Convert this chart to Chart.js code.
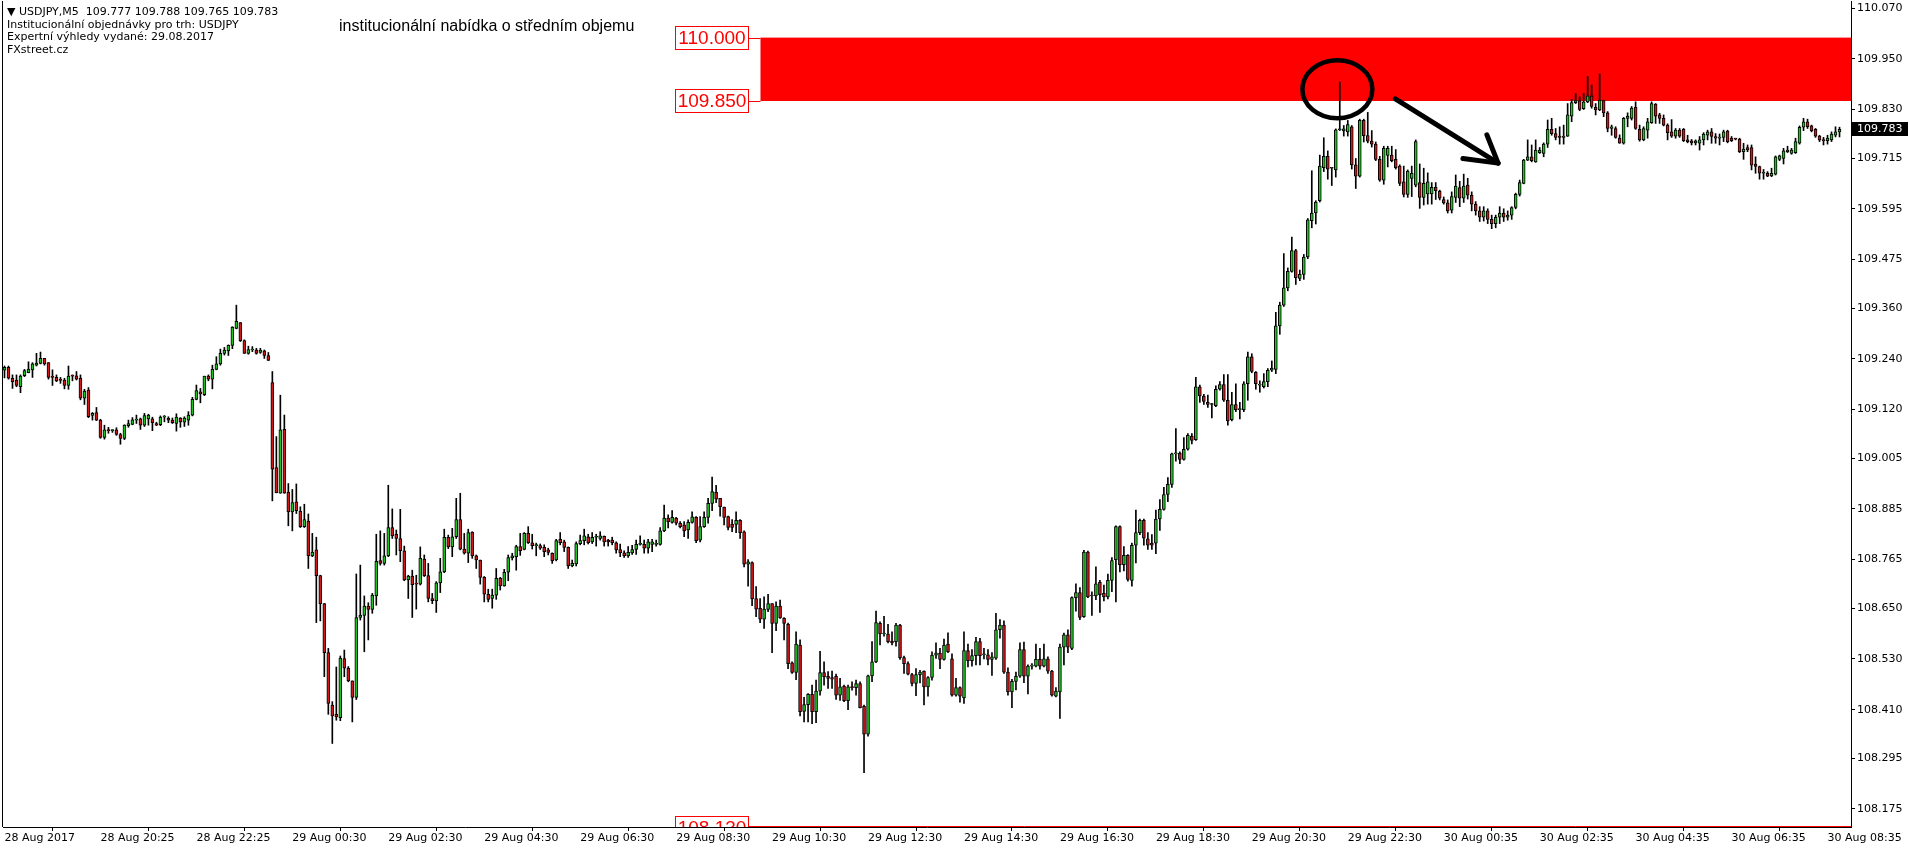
<!DOCTYPE html>
<html><head><meta charset="utf-8">
<script src="https://cdn.jsdelivr.net/npm/chart.js@4.4.1/dist/chart.umd.min.js"></script>
<style>
html,body{margin:0;padding:0;background:#fff;}
#wrap{position:relative;width:1910px;height:852px;overflow:hidden;}
canvas{display:block;position:absolute;left:0;top:0;}
#info{position:absolute;left:7px;top:6px;font:11px "DejaVu Sans";line-height:12.5px;color:#000;white-space:pre;}
#title{position:absolute;left:339px;top:17px;font:16px "Liberation Sans";line-height:18px;color:#000;white-space:pre;}
</style>
</head><body><div id="wrap"><canvas id="c" width="1910" height="852"></canvas>
<div id="info">▼ USDJPY,M5  109.777 109.788 109.765 109.783
Institucionální objednávky pro trh: USDJPY
Expertní výhledy vydané: 29.08.2017
FXstreet.cz</div>
<div id="title">institucionální nabídka o středním objemu</div>
</div>
<script>
const opens = [
109.213,109.220,109.194,109.190,109.174,109.200,109.207,109.214,109.225,109.229,
109.241,109.231,109.198,109.196,109.190,109.190,109.177,109.200,109.200,109.194,
109.147,109.166,109.106,109.113,109.095,109.054,109.071,109.070,109.072,109.061,
109.052,109.082,109.085,109.095,109.098,109.083,109.098,109.098,109.087,109.084,
109.102,109.099,109.095,109.087,109.100,109.090,109.095,109.107,109.144,109.162,
109.155,109.199,109.192,109.215,109.228,109.253,109.259,109.272,109.312,109.326,
109.283,109.253,109.261,109.261,109.255,109.259,109.248,109.184,108.983,108.922,
109.073,108.925,108.878,108.902,108.880,108.843,108.856,108.774,108.788,108.727,
108.661,108.545,108.421,108.399,108.391,108.531,108.508,108.478,108.439,108.628,
108.633,108.655,108.647,108.679,108.763,108.756,108.774,108.841,108.825,108.815,
108.786,108.717,108.726,108.708,108.707,108.766,108.727,108.673,108.667,108.710,
108.736,108.818,108.795,108.819,108.860,108.790,108.780,108.830,108.774,108.764,
108.723,108.683,108.673,108.681,108.721,108.703,108.735,108.769,108.772,108.796,
108.789,108.827,108.805,108.798,108.798,108.794,108.788,108.780,108.764,108.813,
108.807,108.794,108.750,108.755,108.803,108.810,108.819,108.807,108.818,108.815,
108.820,108.811,108.811,108.805,108.789,108.781,108.774,108.781,108.789,108.801,
108.801,108.792,108.801,108.801,108.801,108.833,108.863,108.853,108.863,108.851,
108.847,108.835,108.853,108.865,108.811,108.843,108.865,108.898,108.924,108.910,
108.889,108.867,108.849,108.848,108.858,108.831,108.754,108.758,108.673,108.650,
108.624,108.647,108.661,108.614,108.655,108.626,108.612,108.521,108.498,108.563,
108.406,108.422,108.446,108.405,108.454,108.498,108.489,108.486,108.489,108.444,
108.466,108.431,108.463,108.462,108.472,108.418,108.352,108.490,108.523,108.614,
108.589,108.589,108.572,108.571,108.610,108.533,108.519,108.493,108.472,108.493,
108.501,108.464,108.486,108.539,108.544,108.529,108.565,108.530,108.444,108.462,
108.438,108.550,108.526,108.538,108.571,108.540,108.540,108.529,108.532,108.599,
108.610,108.499,108.452,108.477,108.489,108.552,108.489,108.513,108.513,108.529,
108.513,108.530,108.501,108.442,108.452,108.558,108.587,108.555,108.675,108.687,
108.630,108.783,108.679,108.679,108.711,108.685,108.677,108.716,108.765,108.843,
108.753,108.775,108.716,108.799,108.829,108.858,108.814,108.804,108.804,108.861,
108.884,108.919,108.943,109.015,109.017,109.002,109.026,109.057,109.049,109.174,
109.152,109.137,109.132,109.129,109.168,109.179,109.142,109.096,109.132,109.120,
109.120,109.181,109.245,109.208,109.178,109.174,109.186,109.213,109.215,109.318,
109.367,109.408,109.447,109.496,109.430,109.440,109.481,109.567,109.585,109.614,
109.692,109.719,109.692,109.687,109.782,109.779,109.777,109.789,109.699,109.672,
109.804,109.768,109.755,109.748,109.712,109.663,109.721,109.722,109.712,109.696,
109.659,109.629,109.667,109.651,109.657,109.622,109.630,109.630,109.646,109.637,
109.617,109.609,109.592,109.622,109.645,109.620,109.651,109.627,109.606,109.590,
109.575,109.590,109.570,109.560,109.575,109.585,109.575,109.580,109.598,109.629,
109.655,109.710,109.718,109.706,109.728,109.726,109.748,109.783,109.773,109.767,
109.764,109.767,109.814,109.846,109.851,109.832,109.848,109.862,109.835,109.829,
109.851,109.822,109.785,109.785,109.762,109.750,109.809,109.809,109.835,109.783,
109.758,109.781,109.799,109.843,109.817,109.809,109.793,109.777,109.767,109.781,
109.783,109.758,109.756,109.751,109.750,109.758,109.769,109.777,109.766,109.762,
109.764,109.779,109.762,109.761,109.760,109.730,109.740,109.740,109.701,109.695,
109.679,109.679,109.673,109.677,109.712,109.714,109.734,109.726,109.728,109.750,
109.788,109.801,109.791,109.783,109.767,109.759,109.756,109.758,109.769,109.777];
const highs = [
109.223,109.223,109.202,109.202,109.202,109.215,109.233,109.231,109.253,109.256,
109.241,109.231,109.214,109.202,109.196,109.194,109.223,109.202,109.210,109.202,
109.168,109.172,109.113,109.125,109.097,109.083,109.078,109.072,109.077,109.064,
109.084,109.095,109.101,109.107,109.100,109.111,109.109,109.102,109.090,109.105,
109.106,109.103,109.100,109.110,109.101,109.103,109.115,109.149,109.178,109.170,
109.199,109.202,109.225,109.245,109.263,109.267,109.273,109.316,109.367,109.326,
109.285,109.270,109.269,109.265,109.265,109.261,109.255,109.210,109.056,109.154,
109.107,108.945,108.931,108.944,108.890,108.896,108.873,108.827,108.818,108.728,
108.661,108.555,108.429,108.511,108.537,108.551,108.512,108.478,108.731,108.752,
108.679,108.663,108.685,108.825,108.833,108.827,108.941,108.885,108.835,108.884,
108.797,108.728,108.740,108.728,108.795,108.776,108.756,108.685,108.713,108.768,
108.837,108.823,108.839,108.910,108.922,108.827,108.837,108.831,108.776,108.764,
108.725,108.695,108.695,108.744,108.723,108.742,108.776,108.780,108.799,108.827,
108.829,108.843,108.825,108.804,108.802,108.800,108.792,108.781,108.813,108.829,
108.811,108.795,108.764,108.807,108.823,108.837,108.825,108.829,108.825,108.831,
108.821,108.813,108.818,108.807,108.802,108.786,108.796,108.799,108.811,108.821,
108.811,108.813,108.813,108.811,108.841,108.894,108.871,108.881,108.865,108.855,
108.855,108.859,108.878,108.867,108.867,108.878,108.910,108.960,108.941,108.910,
108.889,108.868,108.860,108.878,108.860,108.833,108.765,108.760,108.701,108.673,
108.677,108.683,108.661,108.665,108.669,108.628,108.615,108.523,108.594,108.575,
108.439,108.448,108.468,108.480,108.548,108.523,108.500,108.501,108.494,108.484,
108.468,108.468,108.476,108.480,108.476,108.421,108.492,108.571,108.643,108.618,
108.631,108.612,108.594,108.614,108.612,108.537,108.523,108.496,108.507,108.503,
108.502,108.488,108.547,108.568,108.555,108.577,108.592,108.542,108.484,108.464,
108.594,108.565,108.552,108.581,108.579,108.555,108.552,108.545,108.638,108.623,
108.620,108.509,108.482,108.499,108.568,108.570,108.516,108.519,108.565,108.555,
108.565,108.535,108.503,108.462,108.565,108.591,108.599,108.677,108.708,108.699,
108.787,108.785,108.689,108.748,108.716,108.705,108.731,108.770,108.845,108.845,
108.796,108.777,108.804,108.882,108.861,108.861,108.829,108.824,108.882,108.907,
108.936,108.959,109.017,109.075,109.020,109.054,109.063,109.063,109.196,109.178,
109.156,109.154,109.135,109.176,109.186,109.203,109.203,109.161,109.181,109.137,
109.186,109.256,109.252,109.210,109.188,109.205,109.217,109.235,109.350,109.374,
109.489,109.455,109.528,109.499,109.450,109.487,109.572,109.685,109.614,109.722,
109.763,109.732,109.692,109.784,109.895,109.792,109.804,109.792,109.714,109.807,
109.807,109.823,109.780,109.753,109.719,109.743,109.743,109.743,109.735,109.699,
109.696,109.687,109.696,109.758,109.701,109.691,109.680,109.657,109.657,109.639,
109.623,109.616,109.635,109.675,109.660,109.677,109.667,109.635,109.612,109.600,
109.600,109.595,109.580,109.580,109.600,109.595,109.590,109.600,109.632,109.663,
109.712,109.758,109.746,109.758,109.740,109.751,109.805,109.809,109.785,109.789,
109.793,109.844,109.854,109.868,109.860,109.868,109.908,109.888,109.844,109.914,
109.852,109.825,109.793,109.789,109.770,109.811,109.822,109.837,109.848,109.793,
109.789,109.809,109.848,109.844,109.821,109.817,109.796,109.806,109.785,109.785,
109.785,109.769,109.759,109.758,109.766,109.775,109.781,109.785,109.773,109.772,
109.781,109.781,109.766,109.762,109.762,109.750,109.746,109.746,109.718,109.696,
109.688,109.683,109.691,109.720,109.722,109.738,109.743,109.738,109.762,109.791,
109.809,109.807,109.793,109.785,109.769,109.764,109.769,109.777,109.789,109.788];
const lows = [
109.195,109.192,109.170,109.174,109.160,109.198,109.207,109.196,109.223,109.228,
109.225,109.192,109.177,109.186,109.182,109.169,109.168,109.188,109.190,109.143,
109.132,109.101,109.095,109.094,109.052,109.050,109.064,109.066,109.059,109.038,
109.049,109.078,109.084,109.087,109.073,109.080,109.083,109.070,109.082,109.082,
109.091,109.089,109.087,109.069,109.078,109.080,109.083,109.105,109.143,109.136,
109.153,109.188,109.169,109.214,109.225,109.249,109.248,109.264,109.311,109.281,
109.253,109.251,109.257,109.251,109.253,109.241,109.236,108.904,108.923,108.922,
108.922,108.845,108.833,108.874,108.841,108.841,108.744,108.772,108.616,108.620,
108.488,108.399,108.330,108.385,108.384,108.488,108.476,108.381,108.434,108.622,
108.547,108.575,108.638,108.657,108.752,108.752,108.772,108.815,108.776,108.760,
108.715,108.673,108.628,108.648,108.705,108.725,108.665,108.661,108.640,108.687,
108.734,108.791,108.772,108.815,108.788,108.778,108.758,108.768,108.744,108.707,
108.665,108.665,108.650,108.671,108.693,108.702,108.715,108.764,108.740,108.775,
108.788,108.803,108.790,108.774,108.789,108.772,108.776,108.756,108.762,108.800,
108.784,108.744,108.748,108.750,108.800,108.800,108.802,108.803,108.797,108.811,
108.797,108.797,108.800,108.780,108.772,108.770,108.770,108.777,108.777,108.799,
108.780,108.780,108.784,108.797,108.799,108.831,108.840,108.851,108.847,108.840,
108.819,108.815,108.851,108.805,108.807,108.841,108.851,108.881,108.900,108.868,
108.847,108.835,108.831,108.829,108.815,108.748,108.702,108.656,108.630,108.616,
108.602,108.642,108.545,108.597,108.626,108.575,108.507,108.496,108.481,108.395,
108.381,108.381,108.377,108.379,108.444,108.468,108.460,108.460,108.434,108.432,
108.429,108.410,108.456,108.444,108.414,108.261,108.347,108.476,108.521,108.563,
108.584,108.568,108.563,108.560,108.529,108.496,108.492,108.466,108.443,108.473,
108.421,108.442,108.480,108.531,108.507,108.527,108.545,108.442,108.442,108.428,
108.425,108.511,108.513,108.516,108.516,108.530,108.516,108.491,108.529,108.579,
108.496,108.444,108.415,108.457,108.486,108.474,108.447,108.506,108.511,108.506,
108.511,108.496,108.442,108.440,108.389,108.516,108.545,108.552,108.643,108.623,
108.628,108.675,108.633,108.670,108.640,108.667,108.672,108.689,108.665,108.736,
108.738,108.714,108.702,108.757,108.824,108.799,108.789,108.789,108.779,108.834,
108.882,108.902,108.936,108.998,108.992,109.000,109.024,109.039,109.047,109.137,
109.132,109.125,109.100,109.127,109.166,109.139,109.083,109.093,109.115,109.098,
109.115,109.142,109.207,109.168,109.161,109.171,109.174,109.210,109.205,109.298,
109.364,109.401,109.445,109.416,109.425,109.428,109.477,109.550,109.559,109.611,
109.683,109.665,109.650,109.670,109.780,109.767,109.767,109.689,109.643,109.670,
109.753,109.751,109.741,109.709,109.660,109.653,109.694,109.706,109.689,109.650,
109.623,109.622,109.624,109.647,109.596,109.604,109.606,109.606,109.617,109.616,
109.606,109.585,109.585,109.610,109.600,109.610,109.618,109.590,109.580,109.565,
109.566,109.560,109.548,109.550,109.560,109.565,109.568,109.570,109.595,109.625,
109.654,109.709,109.706,109.705,109.726,109.718,109.740,109.769,109.758,109.748,
109.748,109.766,109.801,109.844,109.827,109.830,109.846,109.833,109.817,109.827,
109.813,109.777,109.769,109.762,109.750,109.748,109.789,109.805,109.783,109.755,
109.756,109.762,109.797,109.797,109.797,109.791,109.758,109.764,109.762,109.764,
109.754,109.751,109.746,109.746,109.734,109.746,109.758,109.750,109.750,109.746,
109.754,109.751,109.754,109.758,109.728,109.712,109.730,109.687,109.679,109.665,
109.665,109.671,109.671,109.675,109.709,109.701,109.728,109.724,109.726,109.748,
109.780,109.785,109.777,109.764,109.754,109.746,109.748,109.754,109.765,109.765];
const closes = [
109.220,109.194,109.186,109.177,109.199,109.212,109.216,109.228,109.230,109.241,
109.228,109.196,109.196,109.188,109.189,109.177,109.199,109.199,109.192,109.147,
109.164,109.103,109.111,109.095,109.054,109.072,109.070,109.070,109.061,109.052,
109.083,109.087,109.096,109.095,109.083,109.106,109.107,109.089,109.083,109.102,
109.102,109.095,109.089,109.102,109.091,109.100,109.107,109.144,109.165,109.157,
109.199,109.192,109.215,109.228,109.253,109.261,109.272,109.315,109.329,109.283,
109.253,109.262,109.261,109.253,109.261,109.248,109.236,108.979,108.923,109.072,
108.922,108.878,108.900,108.881,108.843,108.860,108.774,108.783,108.727,108.661,
108.545,108.425,108.395,108.393,108.532,108.508,108.478,108.439,108.628,108.634,
108.655,108.647,108.681,108.761,108.756,108.774,108.841,108.821,108.815,108.786,
108.717,108.726,108.706,108.707,108.768,108.727,108.673,108.668,108.710,108.736,
108.818,108.795,108.819,108.860,108.790,108.780,108.829,108.774,108.764,108.723,
108.683,108.671,108.681,108.721,108.703,108.735,108.770,108.774,108.796,108.786,
108.827,108.805,108.798,108.798,108.792,108.784,108.782,108.762,108.810,108.805,
108.794,108.750,108.756,108.803,108.810,108.821,108.805,108.818,108.818,108.821,
108.807,108.807,108.805,108.788,108.781,108.774,108.782,108.789,108.801,108.801,
108.792,108.807,108.807,108.801,108.833,108.863,108.855,108.865,108.851,108.843,
108.833,108.853,108.866,108.810,108.843,108.865,108.898,108.926,108.908,108.890,
108.865,108.841,108.841,108.858,108.829,108.754,108.760,108.672,108.648,108.624,
108.648,108.661,108.614,108.655,108.627,108.614,108.519,108.498,108.565,108.405,
108.422,108.446,108.405,108.454,108.498,108.488,108.484,108.482,108.444,108.464,
108.431,108.464,108.462,108.472,108.415,108.352,108.490,108.523,108.616,108.589,
108.589,108.571,108.568,108.610,108.533,108.519,108.494,108.472,108.493,108.499,
108.464,108.486,108.539,108.544,108.529,108.563,108.547,108.444,108.462,108.442,
108.550,108.526,108.538,108.571,108.538,108.540,108.529,108.535,108.599,108.610,
108.499,108.452,108.477,108.489,108.552,108.489,108.513,108.513,108.529,108.513,
108.530,108.501,108.444,108.454,108.558,108.587,108.558,108.675,108.687,108.628,
108.783,108.677,108.679,108.708,108.682,108.677,108.716,108.763,108.843,108.753,
108.775,108.718,108.799,108.829,108.858,108.816,108.799,108.799,108.861,108.884,
108.919,108.943,109.015,109.015,109.002,109.026,109.059,109.047,109.174,109.152,
109.139,109.132,109.132,109.168,109.179,109.142,109.093,109.132,109.120,109.120,
109.181,109.245,109.210,109.181,109.178,109.186,109.213,109.218,109.318,109.367,
109.408,109.447,109.496,109.432,109.440,109.481,109.569,109.585,109.611,109.696,
109.719,109.689,109.691,109.782,109.782,109.784,109.794,109.699,109.672,109.804,
109.768,109.755,109.748,109.712,109.663,109.738,109.738,109.709,109.692,109.655,
109.629,109.684,109.679,109.754,109.622,109.655,109.659,109.646,109.638,109.620,
109.609,109.590,109.624,109.649,109.620,109.649,109.627,109.606,109.590,109.575,
109.590,109.570,109.560,109.575,109.585,109.575,109.580,109.598,109.629,109.657,
109.710,109.718,109.709,109.734,109.734,109.748,109.783,109.773,109.764,109.764,
109.767,109.817,109.846,109.851,109.830,109.848,109.862,109.837,109.829,109.852,
109.822,109.785,109.789,109.764,109.750,109.809,109.814,109.833,109.785,109.758,
109.785,109.801,109.844,109.814,109.809,109.793,109.775,109.767,109.781,109.767,
109.756,109.754,109.751,109.756,109.758,109.772,109.777,109.766,109.762,109.764,
109.777,109.754,109.756,109.760,109.730,109.736,109.734,109.698,109.695,109.679,
109.679,109.672,109.679,109.718,109.720,109.732,109.730,109.734,109.754,109.788,
109.801,109.789,109.780,109.767,109.758,109.756,109.762,109.772,109.777,109.783];

// time axis labels, one every 24 bars (2 hours of M5 bars)
const timeLabels = ['28 Aug 2017','28 Aug 20:25','28 Aug 22:25','29 Aug 00:30','29 Aug 02:30',
  '29 Aug 04:30','29 Aug 06:30','29 Aug 08:30','29 Aug 10:30','29 Aug 12:30','29 Aug 14:30',
  '29 Aug 16:30','29 Aug 18:30','29 Aug 20:30','29 Aug 22:30','30 Aug 00:35','30 Aug 02:35',
  '30 Aug 04:35','30 Aug 06:35','30 Aug 08:35'];
const labelEvery = 24;
// price axis labels
const priceTicks = ['110.070','109.950','109.830','109.715','109.595','109.475','109.360','109.240',
  '109.120','109.005','108.885','108.765','108.650','108.530','108.410','108.295','108.175'];
const priceRange = [108.1324, 110.0866];
const barRange = [-0.375, 461.875];
// annotations (bar index / price)
const zoneLevels = [110.000, 109.850];
const zoneStartBar = 189.1;
const supportLevel = 108.130;
const lastPrice = 109.783;
const circleCenter = [333.4, 109.878];
const circleRadius = [8.75, 0.0686];
const arrowFrom = [347.9, 109.855];
const arrowTo = [373.6, 109.703];
const arrowWingA = [370.8, 109.770];
const arrowWingB = [364.8, 109.714];

const GREEN = '#1ec31e', RED = '#d01818';
const idx = opens.map((_, i) => i);
const bodyColors = idx.map(i => closes[i] >= opens[i] ? GREEN : RED);

const annot = {
  id: 'annot',
  beforeDatasetsDraw(chart) {
    const {ctx, chartArea: a, scales: {x, y}} = chart;
    ctx.save();
    ctx.beginPath(); ctx.rect(a.left, a.top, a.right - a.left, a.bottom - a.top); ctx.clip();
    const x0 = x.getPixelForValue(zoneStartBar);
    const y0 = y.getPixelForValue(zoneLevels[0]), y1 = y.getPixelForValue(zoneLevels[1]);
    ctx.fillStyle = '#ff0000';
    ctx.fillRect(x0, y0, a.right - x0, y1 - y0);
    ctx.restore();
  },
  afterDatasetsDraw(chart) {
    const {ctx, chartArea: a, scales: {x, y}} = chart;
    ctx.save();
    ctx.beginPath(); ctx.rect(a.left, a.top, a.right - a.left, a.bottom - a.top); ctx.clip();
    const x0 = x.getPixelForValue(zoneStartBar);
    const boxR = Math.round(x0) - 11, boxW = 74, boxH = 24;
    function priceBox(level, toRight) {
      let py = Math.round(y.getPixelForValue(level));
      const lineY = Math.min(py, a.bottom - 1) + 0.5;
      ctx.strokeStyle = '#ff0000'; ctx.lineWidth = 1;
      ctx.beginPath(); ctx.moveTo(boxR, lineY); ctx.lineTo(toRight ? a.right : x0, lineY); ctx.stroke();
      ctx.fillStyle = '#fff';
      ctx.fillRect(boxR - boxW, py - boxH / 2, boxW, boxH);
      ctx.strokeRect(boxR - boxW + 0.5, py - boxH / 2 + 0.5, boxW - 1, boxH - 1);
      ctx.fillStyle = '#ff0000';
      ctx.font = '19px "Liberation Sans"';
      ctx.textAlign = 'center'; ctx.textBaseline = 'middle';
      ctx.fillText(level.toFixed(3), boxR - boxW / 2, py + 1);
    }
    priceBox(zoneLevels[0], false);
    priceBox(zoneLevels[1], false);
    priceBox(supportLevel, true);
    // ellipse
    const cx = x.getPixelForValue(circleCenter[0]), cy = y.getPixelForValue(circleCenter[1]);
    const rx = x.getPixelForValue(circleCenter[0] + circleRadius[0]) - cx;
    const ry = cy - y.getPixelForValue(circleCenter[1] + circleRadius[1]);
    ctx.strokeStyle = '#000'; ctx.lineWidth = 4.5;
    ctx.beginPath(); ctx.ellipse(cx, cy, rx, ry, 0, 0, Math.PI * 2); ctx.stroke();
    // arrow
    const P = p => [x.getPixelForValue(p[0]), y.getPixelForValue(p[1])];
    const f = P(arrowFrom), t = P(arrowTo), wa = P(arrowWingA), wb = P(arrowWingB);
    ctx.lineWidth = 5; ctx.lineCap = 'round'; ctx.lineJoin = 'round';
    ctx.beginPath(); ctx.moveTo(f[0], f[1]); ctx.lineTo(t[0], t[1]); ctx.stroke();
    ctx.beginPath(); ctx.moveTo(wa[0], wa[1]); ctx.lineTo(t[0], t[1]); ctx.lineTo(wb[0], wb[1]); ctx.stroke();
    ctx.restore();
  },
  afterDraw(chart) {
    const {ctx, chartArea: a, scales: {y}} = chart;
    ctx.save();
    // left frame line
    ctx.strokeStyle = '#000'; ctx.lineWidth = 1;
    ctx.beginPath(); ctx.moveTo(a.left - 0.5, a.top); ctx.lineTo(a.left - 0.5, a.bottom); ctx.stroke();
    // last price marker
    const py = Math.round(y.getPixelForValue(lastPrice));
    ctx.fillStyle = '#000';
    ctx.fillRect(a.right + 1, py - 7, 56, 14);
    ctx.fillStyle = '#fff';
    ctx.font = '11px "DejaVu Sans"'; ctx.textAlign = 'left'; ctx.textBaseline = 'middle';
    ctx.fillText(lastPrice.toFixed(3), a.right + 6, py + 0.5);
    ctx.restore();
  }
};

new Chart(document.getElementById('c'), {
  type: 'bar',
  data: {
    datasets: [
      { label: 'wick', data: idx.map(i => ({x: i, y: [lows[i], highs[i]]})),
        backgroundColor: '#000', borderWidth: 0, barThickness: 1, grouped: false, order: 2 },
      { label: 'body', data: idx.map(i => ({x: i, y: [opens[i], closes[i]]})),
        backgroundColor: bodyColors, borderColor: '#000', borderWidth: 1, borderSkipped: false,
        barThickness: 3, minBarLength: 1, grouped: false, order: 1 }
    ]
  },
  options: {
    responsive: false, animation: false, events: [],
    layout: { padding: { left: 3, top: 1, right: 0, bottom: 0 } },
    plugins: { legend: { display: false }, tooltip: { enabled: false } },
    scales: {
      x: {
        type: 'linear', min: barRange[0], max: barRange[1], offset: false,
        grid: { drawOnChartArea: false, drawTicks: true, tickLength: 4, color: '#000' },
        border: { display: true, color: '#000' },
        ticks: { align: 'start', autoSkip: false, maxRotation: 0, color: '#000', padding: 1,
          font: { family: 'DejaVu Sans', size: 11 },
          callback: v => timeLabels[Math.round(v / labelEvery)] || '' },
        afterBuildTicks: s => { s.ticks = timeLabels.map((_, k) => ({ value: k * labelEvery })); },
        afterFit: s => { s.height = 25; s.paddingLeft = 0; s.paddingRight = 0; }
      },
      y: {
        type: 'linear', position: 'right', min: priceRange[0], max: priceRange[1],
        grid: { drawOnChartArea: false, drawTicks: true, tickLength: 4, color: '#000' },
        border: { display: true, color: '#000' },
        ticks: { color: '#000', padding: 2, font: { family: 'DejaVu Sans', size: 11 },
          callback: (v, i) => priceTicks[i] },
        afterBuildTicks: s => { s.ticks = priceTicks.map(t => ({ value: parseFloat(t) })); },
        afterFit: s => { s.width = 59; s.paddingTop = 0; s.paddingBottom = 0; }
      }
    }
  },
  plugins: [annot]
});
</script>
</body></html>
